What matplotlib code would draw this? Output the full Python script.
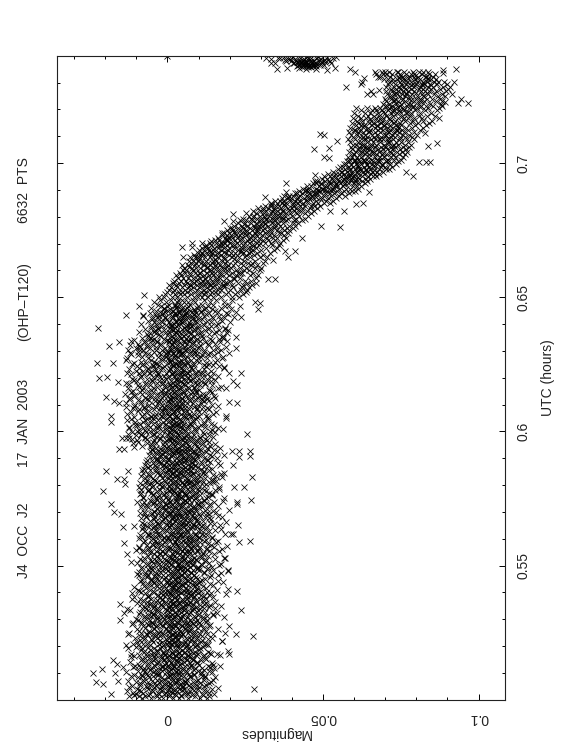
import matplotlib
matplotlib.use('Agg')
import matplotlib.pyplot as plt
import numpy as np

# all magnitudes in millimag
utc_rows = [
0.5012,0.5021,0.5033,0.5039,0.5052,0.5061,0.5068,0.5083,0.5091,0.5102,
0.5111,0.5123,0.5129,0.5142,0.5151,0.5163,0.5172,0.5178,0.5192,0.5203,
0.5209,0.5222,0.5231,0.5243,0.5249,0.5262,0.5273,0.5281,0.5288,0.5302,
0.5312,0.5319,0.5333,0.5341,0.5352,0.5359,0.5372,0.5383,0.5391,0.5402,
0.5409,0.5423,0.5431,0.5442,0.5448,0.5463,0.5471,0.5482,0.5489,0.5503,
0.5511,0.5522,0.5528,0.5542,0.5553,0.5561,0.5569,0.5582,0.5592,0.5601,
0.5612,0.5619,0.5632,0.5643,0.5651,0.5658,0.5673,0.5681,0.5692,0.5699,
0.5712,0.5723,0.5729,0.5741,0.5752,0.5763,0.5769,0.5782,0.5791,0.5802,
0.5811,0.5818,0.5833,0.5841,0.5852,0.5859,0.5872,0.5881,0.5893,0.5899,
0.5912,0.5923,0.5931,0.5938,0.5952,0.5961,0.5972,0.5979,0.5992,0.6003,
0.6011,0.6022,0.6029,0.6041,0.6052,0.6059,0.6073,0.6082,0.6091,0.6098,
0.6113,0.6121,0.6132,0.6139,0.6151,0.6162,0.6173,0.6179,0.6192,0.6201,
0.6212,0.6219,0.6232,0.6243,0.6251,0.6258,0.6272,0.6283,0.6291,0.6302,
0.6309,0.6322,0.6333,0.6341,0.6349,0.6362,0.6371,0.6382,0.6391,0.6399,
0.6412,0.6423,0.6431,0.6442,0.6449,0.6461,0.6472,0.6482,0.6489,
]

mag_rows = [
[-12.4,-7.1,-3.2,0.6,4.3,8.9,13.5,-9.3],[-10.2,-5.5,-1.1,2.4,6.7,11.2,-2.7,15.1],
[-13.1,-8.4,-4.6,-0.3,3.1,7.4,12.6,1.2],[-6.2,-2.4,1.8,5.2,9.7,-9.9,14.3,3.6],
[-11.5,-6.9,-3.8,0.2,4.9,8.1,11.9,-1.6],[-8.7,-4.1,-0.9,2.9,6.1,10.4,13.2,0.8],
[-12.8,-7.6,-2.2,1.5,5.6,9.1,-5.1,3.3],[-9.4,-5.8,-1.7,3.7,7.2,12.1,15.4,0.1],
[-10.9,-6.4,-3.1,0.9,4.5,8.6,-8.2,2.1],[-13.4,-4.7,-0.4,2.6,6.4,10.8,14.2,-2.9],
[-7.8,-3.6,1.1,5.1,8.4,11.6,-5.7,3.4],[-11.2,-6.1,-1.9,2.2,6.8,13.7,-8.9,0.5],
[-9.1,-4.4,-0.7,3.9,7.7,10.1,14.8,1.7],[-12.1,-7.3,-2.6,1.3,5.4,9.4,-5.2,3.1],
[-8.3,-3.9,0.3,4.2,8.2,12.4,-1.2,6.3],[-10.6,-6.6,-2.1,2.7,6.6,11.3,-4.3,0.4],
[-11.7,-5.3,-0.8,3.5,7.1,9.9,14.1,1.9],[-7.4,-3.3,1.4,5.7,8.8,12.9,-1.4,3.8],
[-12.6,-8.1,-4.2,0.7,4.1,10.6,-2.3,6.9],[-9.6,-5.6,-1.3,2.8,6.2,9.2,13.1,0.2],
[-11.1,-6.7,-2.8,1.6,5.3,8.3,12.2,3.2],[-8.8,-4.9,-0.2,3.4,7.6,11.1,-2.5,1.1],
[-10.3,-7.2,-3.4,2.3,5.9,9.6,14.4,0.6],[-6.8,-1.8,1.9,4.6,8.7,12.8,-4.5,3.9],
[-12.2,-5.9,-2.7,0.4,6.5,10.2,-8.6,2.5],[-9.8,-4.3,-0.5,3.6,7.3,11.7,1.3,5.5],
[-7.9,-3.7,1.2,4.8,8.9,13.4,-1.5,2.8],[-11.4,-6.3,-2.3,2.1,6.3,10.7,-4.8,0.9],
[-8.5,-5.1,-0.6,3.2,7.5,9.3,12.3,1.6],[-10.1,-6.8,-3.2,1.8,5.8,11.4,-1.1,4.4],
[-7.2,-3.5,0.8,4.7,8.5,12.7,-5.4,2.4],[-9.2,-4.6,-1.4,2.9,6.9,10.3,14.6,0.3],
[-11.9,-6.2,-2.9,3.3,7.8,9.8,-0.1,5.2],[-8.1,-4.8,0.5,4.4,8.3,11.8,15.2,1.4],
[-6.5,-2.1,2.6,5.5,10.5,13.6,-3.9,0.7],[-9.7,-5.2,-0.9,3.8,7.4,12.5,1.7,6.1],
[-7.7,-3.4,1.3,4.9,9.2,11.5,-1.7,3.1],[-10.8,-6.1,-2.4,2.4,6.7,14.7,0.6,8.4],
[-5.9,-1.5,3.5,7.1,10.9,13.3,-3.1,1.2],[-8.6,-4.2,0.1,4.3,8.1,12.6,-0.8,5.9],
[-9.5,-5.7,-2.2,2.7,6.4,9.5,15.9,1.5],[-7.5,-3.2,1.9,5.1,8.8,11.3,-1.2,3.7],
[-6.3,-2.8,0.4,4.6,7.9,13.8,2.2,9.1],[-8.9,-4.7,-0.3,3.1,6.6,10.6,16.2,1.8],
[-5.4,-1.1,2.5,5.8,9.4,12.1,-3.3,7.2],[-9.3,-6.4,-2.6,1.6,4.2,8.6,13.9,3.3],
[-7.1,-3.8,0.9,5.3,7.7,11.6,17.1,2.1],[-4.9,-1.6,3.2,6.3,10.1,14.5,0.2,8.3],
[-8.4,-5.3,-0.7,2.8,5.7,9.7,12.9,4.1],[-6.7,-2.9,1.1,4.5,8.2,11.2,16.6,3.4],
[-9.9,-4.5,-1.3,3.6,7.3,13.4,0.5,6.2],[-5.6,-2.3,2.1,5.4,9.1,12.4,-0.6,7.5],
[-7.6,-3.1,0.7,4.8,8.4,10.8,18.1,2.7],[-4.4,-0.9,3.9,6.8,11.4,15.1,1.9,-2.4],
[-8.2,-5.5,-1.8,2.2,6.1,9.8,13.5,4.7],[-6.1,-2.5,1.4,4.1,7.6,12.3,17.4,0.3],
[-9.1,-3.6,0.2,3.4,8.7,10.4,14.9,5.6],[-5.1,-1.7,2.9,6.5,9.3,13.1,-3.2,7.1],
[-7.3,-4.1,0.8,4.9,8.1,11.7,16.3,2.3],[-4.7,-1.2,3.1,5.9,10.2,14.2,0.1,6.9],
[-8.8,-5.8,-2.1,2.6,7.4,9.6,12.7,4.3],[-6.4,-3.3,1.6,4.4,8.9,11.1,18.4,0.9],
[-3.9,-0.4,3.7,6.2,10.7,15.4,2.4,-1.9],[-7.9,-4.3,0.6,5.2,7.8,12.8,3.5,9.4],
[-5.7,-2.7,1.2,4.6,8.3,11.4,16.8,-0.2],[-8.3,-3.5,0.4,3.3,6.7,9.9,13.7,5.1],
[-4.2,-1.4,2.8,5.6,9.5,14.1,1.5,7.3],[-6.9,-3.9,1.7,4.2,8.6,12.2,17.6,-0.7],
[-5.2,-2.2,2.3,6.4,10.3,13.2,3.6,0.6],[-7.4,-4.4,0.3,3.8,7.2,11.5,15.7,5.3],
[-3.4,-0.8,3.3,5.7,9.2,12.6,1.8,7.7],[-6.6,-2.6,1.3,4.7,8.5,10.9,16.1,-1.3],
[-8.1,-4.6,-0.5,3.9,6.9,13.6,2.6,9.8],[-5.3,-1.9,2.7,5.5,9.7,11.9,17.8,0.7],
[-7.7,-3.7,0.5,4.3,8.8,12.5,2.9,6.6],[-4.6,-1.3,3.4,6.1,10.6,14.4,-2.6,7.9],
[-8.6,-5.4,-0.6,2.4,5.8,9.3,13.3,3.7],[-6.2,-2.4,1.9,4.5,8.2,11.6,15.3,0.4],
[-9.2,-4.9,-1.7,3.1,7.1,10.1,16.7,4.8],[-5.8,-2.8,0.9,5.4,8.6,12.3,2.2,-0.3],
[-7.2,-3.2,2.1,4.7,7.5,11.3,14.8,6.4],[-4.3,-1.1,3.6,6.7,9.6,13.9,0.8,8.8],
[-8.4,-5.6,-0.8,2.5,5.2,10.5,15.6,3.1],[-6.3,-2.3,1.5,4.2,8.1,12.1,17.2,6.8],
[-3.7,-0.6,2.9,5.9,9.4,11.8,1.1,7.4],[-7.5,-3.8,0.7,3.5,6.3,10.8,14.3,4.9],
[-5.5,-1.8,2.4,5.1,8.9,13.1,-0.4,7.6],[-4.8,-2.1,1.6,4.4,7.9,11.2,16.4,3.2],
[-6.7,-3.1,0.2,3.7,6.5,9.1,12.9,5.7],[-3.2,0.3,2.8,5.3,8.3,11.7,15.8,7.1],
[-5.9,-2.5,1.4,4.1,6.9,10.3,13.6,18.2],[-4.1,-0.7,3.3,5.6,8.7,12.4,1.9,7.8],
[-5.1,-1.9,2.3,4.6,7.2,10.9,14.9,0.6],[-3.6,-0.2,3.8,6.2,9.8,12.8,1.7,16.9],
[-5.3,-1.4,1.8,4.8,8.4,11.1,15.2,6.6],[-9.4,-4.6,-0.9,2.7,5.5,9.9,13.4,3.4],
[-11.3,-6.5,-2.4,1.6,4.3,8.1,12.2,0.5],[-7.1,-3.6,0.8,5.2,7.7,10.4,14.6,2.8],
[-12.7,-8.5,-4.2,-0.3,3.1,6.4,11.6,1.3],[-9.8,-5.7,-1.6,2.2,5.9,9.2,13.8,3.9],
[-12.3,-7.8,-3.4,1.1,4.7,8.8,16.4,-0.6],[-10.4,-6.1,-2.7,2.9,6.6,10.7,1.4,5.1],
[-8.9,-4.8,-0.5,3.6,7.3,11.9,14.1,2.1],[-12.9,-7.2,-3.1,0.9,4.2,8.3,-5.3,1.7],
[-10.7,-5.2,-1.3,2.4,6.1,9.6,13.1,3.3],[-8.2,-3.9,0.6,4.9,7.9,12.4,-1.8,2.6],
[-11.6,-6.8,-2.2,1.7,5.3,10.2,15.7,0.3],[-9.1,-4.3,-0.8,3.2,6.8,9.4,13.3,4.4],
[-13.2,-7.5,-3.7,0.4,4.1,8.6,11.4,-1.1],[-10.3,-5.9,-1.9,2.6,5.7,9.8,14.4,1.9],
[-8.6,-4.1,0.2,3.8,7.4,11.8,-2.8,5.6],[-12.4,-6.6,-2.5,1.2,4.8,8.9,12.7,0.7],
[-10.8,-5.4,-1.2,3.1,6.3,10.1,15.1,2.3],[-13.6,-8.1,-3.3,0.5,4.4,7.6,11.3,-0.9],
[-11.1,-6.3,-2.1,2.8,5.1,9.3,13.6,1.5],[-12.8,-7.9,-4.4,1.3,6.9,8.4,16.1,3.7],
[-9.6,-5.6,-0.7,2.5,5.8,10.6,14.2,0.8],[-13.3,-6.9,-3.5,1.9,4.6,8.7,12.1,-1.4],
[-10.6,-5.1,-1.5,3.4,7.2,9.5,15.4,2.7],[-8.8,-4.5,0.1,4.3,6.7,11.2,13.9,-2.3],
[-11.8,-7.4,-2.9,1.4,5.4,9.1,12.6,3.1],[-9.3,-5.8,-0.4,2.1,6.2,10.9,14.7,4.8],
[-12.2,-6.2,-2.3,0.9,4.9,8.2,11.7,-4.1],[-9.9,-4.7,-1.1,3.7,7.1,12.3,16.6,1.8],
[-11.4,-7.7,-3.2,1.6,5.2,8.5,13.2,2.9],[-8.4,-4.2,0.7,4.1,6.4,10.3,15.3,3.3],
[-13.1,-6.4,-1.7,2.3,5.6,9.7,12.8,0.2],[-9.5,-5.3,-0.3,3.9,7.7,11.1,14.9,2.4],
[-11.9,-7.1,-2.6,1.8,4.5,8.8,13.7,-0.6],[-8.7,-3.8,1.1,5.5,8.1,11.6,17.3,3.6],
[-10.2,-5.5,-0.9,2.7,6.6,9.9,15.8,1.2],[-12.1,-6.7,-2.4,1.5,4.7,10.4,13.4,3.2],
[-7.6,-3.4,1.7,5.3,8.3,12.2,16.9,0.4],[-10.9,-4.9,-0.2,3.3,6.5,9.2,14.3,2.6],
[-8.3,-5.2,0.9,4.2,7.5,11.5,17.7,1.9],[-6.6,-2.7,2.2,5.7,9.4,13.5,0.3,7.3],
[-9.2,-4.4,0.4,3.6,6.8,10.7,15.6,2.8],[-7.3,-3.1,1.3,4.8,8.6,12.9,18.6,5.9],
[-5.4,-1.6,2.9,6.1,9.7,14.1,1.1,7.6],[-8.5,-3.7,0.8,4.4,7.3,11.3,16.2,2.2],
[-6.2,-2.1,2.6,5.1,8.9,12.6,17.5,3.9],[-4.6,-0.7,3.4,6.7,10.2,14.6,1.4,8.3],
[-7.7,-2.8,1.6,4.6,7.8,11.7,16.7,5.4],[-5.6,-1.4,2.3,5.9,9.1,13.3,18.9,3.7],
[-3.8,0.2,3.9,7.1,10.8,15.2,1.7,8.7],[-5.2,-1.1,2.7,6.3,9.6,12.4,17.1,4.6],
[-3.1,0.6,4.2,7.4,11.2,14.8,19.7,2.4],[-4.4,-0.4,3.1,6.6,8.9,13.7,18.2,5.3],
[-2.3,1.3,4.7,8.1,11.6,15.6,20.8,3.4],[-3.7,0.8,3.8,7.2,10.3,14.3,19.1,5.7],
[-1.4,2.1,5.3,8.8,12.4,16.4,21.9,3.9],[-3.2,0.5,4.5,7.7,11.1,15.1,20.4,6.2],
[-0.9,2.8,6.1,9.3,13.2,17.3,22.7,4.6],
]

# second pass through the low part of the band, values not in order
utc_low = [
0.5007,0.5017,0.5026,0.5036,0.5047,0.5056,0.5066,0.5074,0.5087,0.5096,
0.5106,0.5117,0.5126,0.5135,0.5147,0.5157,0.5166,0.5175,0.5186,0.5197,
0.5206,0.5216,0.5227,0.5237,0.5246,0.5255,0.5267,0.5277,0.5285,0.5296,
0.5307,0.5316,0.5326,0.5337,0.5346,0.5356,0.5365,0.5377,0.5386,0.5397,
0.5405,0.5417,0.5427,0.5436,0.5445,0.5457,0.5466,0.5476,0.5486,0.5495,
0.5507,0.5516,0.5525,0.5537,0.5547,0.5556,0.5566,0.5575,0.5587,0.5596,
0.5607,0.5615,0.5627,0.5636,0.5646,0.5656,0.5665,0.5677,0.5686,0.5696,
0.5705,0.5717,0.5726,0.5736,0.5745,0.5757,0.5766,0.5776,0.5785,0.5797,
0.5806,0.5815,0.5826,0.5837,0.5846,0.5855,0.5867,0.5876,0.5886,0.5895,
0.5907,0.5916,0.5926,0.5935,0.5947,0.5956,0.5966,0.5975,0.5987,0.5996,
0.6006,0.6017,0.6025,0.6036,0.6047,0.6056,0.6066,0.6075,0.6087,0.6096,
0.6105,0.6117,0.6126,0.6136,0.6146,0.6155,0.6167,0.6176,0.6186,0.6195,
0.6207,0.6216,0.6226,0.6237,0.6246,0.6255,0.6266,0.6276,0.6287,0.6296,
0.6305,0.6316,0.6327,0.6336,0.6345,0.6357,0.6366,0.6376,0.6386,0.6395,
0.6406,0.6417,0.6426,0.6436,0.6445,0.6456,0.6467,0.6476,0.6486,0.6495,
]
mag_low = [
[3.7,-8.2,10.4,-1.3,6.6,-5.4,1.9,12.8,-2.6],[7.9,-3.8,-10.7,4.2,0.9,11.3,-6.1,2.7],
[-0.5,9.3,-7.7,5.6,-3.1,13.2,1.4,-11.2,6.3],[2.2,-4.9,8.6,-9.1,0.3,4.8,11.7,-1.9],
[10.1,-6.6,3.3,-2.2,7.4,-12.3,0.7,5.1,-4.2],[-8.8,1.2,6.9,-0.8,12.4,3.9,-5.7,9.2],
[4.6,-2.7,-10.1,8.3,0.2,14.1,-6.4,2.9,5.7],[-3.4,11.6,-7.9,1.7,6.2,-1.1,9.8,3.2],
[0.8,-11.8,5.3,-4.6,12.2,-0.2,7.1,-8.1,2.4],[6.8,-2.9,3.6,10.7,-6.9,1.1,-3.7,8.4],
[-7.2,4.1,0.4,13.4,-1.6,6.1,-9.6,2.6,9.7],[1.6,-5.2,8.8,-2.4,4.9,11.1,-0.7,-7.4],
[-4.1,7.6,2.1,-10.4,5.8,0.1,12.9,-1.8,3.4],[9.4,-6.2,-0.4,4.4,-3.3,7.2,1.3,14.3],
[-8.6,2.8,6.4,-1.2,10.9,-4.8,3.1,0.6,8.1],[5.2,-2.1,-7.1,12.1,1.8,-5.9,7.8,3.7],
[-0.9,9.1,-9.3,4.3,-3.6,6.7,11.9,2.3,0.5],[-6.7,3.8,8.2,-1.4,13.8,5.4,-4.4,1.5],
[2.9,-8.4,6.3,-0.1,10.3,-3.2,4.7,7.3,-5.6],[11.4,-1.7,3.2,-6.3,0.7,8.7,-10.2,5.9],
[-2.8,6.5,1.2,-7.8,9.6,3.6,12.6,-0.3,4.5],[-4.7,8.9,0.2,-9.7,5.5,2.1,-1.6,10.8],
[3.3,-5.3,7.7,-0.6,13.1,1.9,-7.5,6.2,9.2],[-2.3,4.2,11.2,-4.1,0.4,7.5,-8.9,2.7],
[8.3,-6.5,1.4,-1.1,5.1,10.5,3.1,-3.9,14.8],[-9.2,6.8,0.3,3.9,-2.5,12.3,-5.8,8.6],
[1.7,-4.3,9.9,5.6,-0.4,-7.2,3.2,11.5,6.9],[-1.9,7.2,-6.2,2.5,13.6,-3.5,4.8,0.6],
[10.2,-8.3,5.2,-0.8,1.3,8.1,-4.9,3.5,6.4],[-2.7,12.7,0.9,-5.7,7.4,3.7,-9.5,9.5],
[4.1,-1.3,6.7,-7.6,2.2,11.3,-3.1,8.8,0.1],[-6.1,9.7,1.6,-0.2,5.3,14.6,-4.5,3.4],
[7.1,-2.9,-8.7,4.4,12.1,0.8,6.1,-5.1,2.3],[-3.3,8.5,1.1,-6.9,10.6,5.7,-0.7,3.9],
[0.5,-4.2,7.9,13.3,2.6,-7.3,5.2,9.1,-1.5],[-5.5,3.6,11.8,-2.1,6.6,1.8,-8.4,8.2],
[9.3,-0.6,4.9,-6.6,2.4,15.2,-3.7,7.3,0.9],[-1.8,6.3,-5.2,10.4,3.1,-8.9,12.4,4.6],
[5.9,-3.4,1.5,8.4,-0.9,-6.4,11.6,2.8,7.6],[-7.1,4.3,9.8,0.7,-2.2,6.8,13.9,1.2],
[2.5,-4.8,7.2,-0.3,10.7,-9.2,5.4,3.3,8.9],[-2.6,12.5,1.9,-6.8,6.1,3.8,-0.5,9.4],
[4.7,-1.4,8.1,-5.3,14.7,2.3,-3.6,6.5,0.4],[-7.7,10.3,3.4,-0.2,5.7,1.1,8.7,-4.4],
[6.2,-2.8,11.2,0.6,-8.1,4.1,7.9,2.7,-5.2],[-0.7,9.2,3.5,-3.9,13.7,5.6,-6.7,1.4],
[8.6,-4.1,2.1,6.9,-1.5,16.1,-7.3,4.8,0.3],[-2.3,5.3,11.9,1.7,-9.1,7.7,3.2,-5.7],
[3.9,-6.2,9.6,-0.4,6.4,12.7,0.8,-3.1,5.1],[-8.2,2.4,7.1,-1.9,14.2,4.5,-4.7,9.9],
[1.3,-2.7,10.8,5.9,-6.3,3.4,8.3,-0.6,17.3],[-5.1,6.7,0.2,12.2,-3.2,4.2,2.9,-7.8],
[9.1,-1.2,5.4,-8.7,7.8,1.6,15.3,-4.3,3.7],[-3.5,10.9,0.7,6.2,-6.1,2.1,13.1,4.9],
[7.4,-0.9,-5.6,3.2,11.4,8.5,-2.4,1.5,5.8],[-7.4,4.6,9.4,-1.7,16.6,2.7,6.9,-3.8],
[0.9,-5.9,12.6,3.6,7.5,-0.1,-9.3,5.2,10.1],[-2.1,8.2,1.8,-4.6,13.9,6.3,3.3,-6.5],
[4.4,-7.9,10.6,-0.8,2.5,7.1,15.6,-3.3,5.5],[-1.6,6.9,0.5,-5.4,9.3,3.1,12.3,8.4],
[2.2,-3.7,14.4,7.2,-8.3,4.7,0.1,10.2,-1.1],[-6.4,5.6,1.9,11.7,-2.6,8.9,3.8,-4.9],
[9.7,-0.3,6.4,-7.2,3.4,13.2,1.1,-3.4,5.3],[-5.3,12.1,2.6,7.7,-1.4,4.1,17.2,-8.1],
[3.1,-2.5,9.1,0.4,-6.6,6.7,10.8,5.1,-4.1],[-0.5,14.9,4.2,-7.6,8.1,1.7,-2.9,6.1],
[7.3,-5.7,2.3,11.3,-1.8,3.9,9.6,0.6,-3.6],[-8.5,6.4,13.5,1.4,-0.7,5.2,-4.7,8.8],
[4.8,-2.2,10.4,-6.9,7.9,2.9,16.2,-0.1,3.6],[-3.1,8.6,0.9,-5.1,12.8,5.7,1.2,-7.3],
[6.6,-0.9,3.3,-4.4,9.2,14.7,-2.3,7.5,1.8],[-6.2,11.1,4.5,0.3,-1.7,8.3,2.4,-8.6],
[5.1,-3.8,13.2,7.1,-0.4,-6.8,3.7,9.9,1.6],[-2.6,4.9,10.7,0.8,-7.4,6.3,15.1,-4.2],
[8.4,-1.3,2.7,-5.5,5.8,11.6,0.2,-3.5,6.9],[-7.8,3.5,9.3,-0.6,12.9,4.3,-2.9,7.7],
[1.5,-4.6,6.1,14.3,-8.8,3.2,8.7,-1.1,5.4],[-3.2,10.1,2.2,-6.3,7.3,0.7,12.4,4.7],
[6.3,-0.2,-5.8,3.9,9.7,16.7,-2.7,1.3,7.8],[-4.5,8.2,0.6,-7.5,5.6,11.9,2.8,-1.6],
[3.4,-8.9,13.6,6.8,-2.1,1.9,9.5,-5.2,4.6],[-0.8,7.4,-3.9,10.5,2.4,-6.7,5.9,15.7],
[8.9,-4.8,1.6,-1.9,6.2,12.2,3.6,-7.1,0.5],[-2.4,5.1,9.9,-5.9,3.1,14.6,0.9,7.2],
[4.2,-7.7,11.3,-0.5,8.1,1.4,-3.3,6.6,18.3],[-5.6,2.9,7.6,0.2,13.4,-1.8,4.4,-8.3],
[9.8,-3.7,5.7,-0.9,2.1,-6.1,11.7,7.5,1.1],[-4.1,6.5,16.9,3.3,-1.2,8.8,-7.2,0.4],
[2.6,-6.8,10.9,5.2,-2.8,13.7,1.7,7.9,-0.3],[-5.1,4.3,-1.4,8.4,12.6,0.3,6.1,-3.6],
[3.7,-2.2,9.4,-4.8,1.2,14.4,6.7,-0.7,5.3],[-3.4,7.1,0.6,11.2,-1.9,4.5,9.2,2.1],
[6.4,-5.7,2.8,15.8,-0.5,8.5,-3.1,4.1,1.4],[-4.9,10.6,3.1,-2.3,7.7,12.9,0.8,5.6],
[-8.2,4.7,-1.1,9.6,2.3,-5.3,13.8,6.8,0.2],[-11.2,5.9,-3.8,8.7,1.6,-6.6,11.3,3.2],
[7.2,-9.7,2.1,-0.4,12.7,4.9,-4.4,9.3,0.7],[-12.2,6.6,-2.5,3.5,-7.3,10.4,1.1,5.3],
[-5.1,8.4,-10.1,0.3,13.3,3.8,-1.7,6.1,-8.6],[2.7,-6.9,11.5,-3.2,7.6,-11.4,4.4,0.9],
[-9.2,5.5,-0.6,14.2,2.3,-4.7,8.9,1.3,-7.1],[9.8,-2.8,-12.5,4.1,6.7,-5.5,0.5,12.1],
[-6.4,3.2,-9.9,7.8,-0.9,15.1,1.7,-3.4,5.1],[-10.5,8.2,2.6,-1.4,11.8,-7.8,4.6,0.1],
[3.9,-4.3,13.1,-11.7,6.2,-0.2,9.1,-6.5,1.9],[-8.1,5.7,-2.1,10.2,0.6,-5.2,7.3,2.8],
[6.9,-12.9,1.4,-3.7,14.7,4.2,-7.4,8.6,0.3],[-1.6,11.6,-9.4,3.1,-5.9,6.4,2.2,-0.8],
[4.8,-7.6,9.4,-2.4,0.7,-11.1,12.8,5.8,1.5],[-4.1,7.2,-10.7,2.9,16.3,-0.5,3.6,-6.2],
[10.8,-8.5,1.2,5.1,-3.1,8.3,-13.3,0.4,4.3],[-5.8,2.4,11.1,-1.2,6.9,-9.6,13.5,3.3],
[-7.3,9.7,0.9,-3.9,4.7,15.4,-12.1,7.5,1.8],[1.1,-6.1,5.6,-10.3,8.8,-2.3,3.4,12.4],
[-0.7,7.9,-8.9,14.3,2.1,-4.6,5.3,-11.6,9.2],[3.7,-5.3,10.3,-1.5,6.3,0.2,-8.2,13.2],
[-9.3,1.6,8.4,-3.5,17.1,4.5,-0.9,6.6,2.7],[-7.1,12.2,3.2,-12.4,5.2,-1.8,9.6,0.8],
[4.3,-4.9,14.1,7.3,-9.8,1.3,-2.6,6.1,10.7],[-11.3,2.9,8.1,-0.4,-6.7,5.4,12.6,3.8],
[9.2,-3.3,0.5,-8.4,16.4,4.8,-1.1,7.4,2.2],[-5.7,6.5,-13.1,11.4,1.5,-2.9,3.9,8.7],
[0.4,-7.9,13.9,5.1,-4.1,9.9,-10.2,2.6,6.8],[-1.3,7.7,3.1,-6.4,18.1,0.7,-9.1,4.2],
[11.7,-2.7,5.7,-8.1,1.8,14.8,-4.8,8.2,3.4],[-10.6,4.9,0.1,6.7,-3.6,12.3,2.5,-6.9],
[7.5,-13.4,1.2,9.3,-1.7,4.4,-5.4,15.9,0.6],[-3.1,10.9,-8.3,3.3,6.4,-0.6,17.8,2.1],
[-6.1,5.2,13.1,-11.8,1.9,8.6,-2.2,4.6,9.5],[0.3,-4.4,7.3,-9.5,11.9,3.7,-0.2,16.1],
[-7.8,2.8,6.1,-1.9,14.6,9.1,-12.6,4.1,1.1],[5.5,-3.6,10.2,-6.6,0.9,18.7,-8.9,7.8],
[-2.1,3.4,12.9,-5.1,8.3,1.6,-9.4,6.3,15.2],[4.9,-7.2,0.6,10.6,-3.2,6.8,-0.4,19.1],
[-5.9,9.4,2.3,-1.1,13.7,5.9,-4.2,7.1,16.7],[1.4,-6.3,11.2,3.9,-2.4,8.4,17.9,5.2],
[-0.8,7.6,-3.7,14.9,2.7,10.4,-5.6,4.3,19.3],[6.2,-4.1,1.8,12.1,-1.2,8.9,3.1,16.5],
[-2.9,9.8,0.7,5.3,-5.2,18.6,7.2,13.3,2.4],[3.5,-0.6,11.6,6.6,-3.4,15.7,1.3,8.1],
[-4.3,4.7,20.1,0.4,9.6,-1.7,13.9,6.9,2.9],[7.8,-2.6,3.6,16.9,-0.3,11.1,5.1,-5.1],
[1.7,-3.3,9.2,21.4,4.9,-0.9,14.4,6.4,18.2],[-1.6,5.8,12.3,2.4,8.6,19.6,-3.9,3.2],
[3.8,16.3,-0.7,10.8,6.1,-2.4,22.1,7.9,1.2],[-1.1,8.4,4.4,14.2,0.8,20.4,11.7,5.7],
[2.3,18.4,-0.2,9.7,6.7,23.2,3.1,13.1,-2.2],
]

# top part of the fall, several scans per row
utc_high = [
0.6502,0.6511,0.6519,0.6526,0.6538,0.6546,0.6553,0.6562,0.6572,0.6581,
0.6589,0.6601,0.6608,0.6619,0.6628,0.6636,0.6648,0.6657,0.6664,0.6676,
0.6683,0.6694,0.6703,0.6712,0.6719,0.6731,0.6738,0.6749,0.6757,0.6766,
0.6778,0.6786,0.6793,0.6804,0.6813,0.6821,0.6832,0.6839,0.6851,0.6858,
0.6869,0.6877,0.6888,0.6896,0.6903,0.6916,0.6924,0.6933,0.6941,0.6952,
0.6959,0.6968,0.6977,0.6986,0.6998,0.7006,0.7013,0.7024,0.7032,0.7041,
0.7052,0.7059,0.7068,0.7079,0.7088,0.7096,0.7103,0.7114,0.7123,0.7131,
0.7142,0.7149,0.7158,0.7169,0.7176,0.7187,0.7196,0.7204,0.7213,0.7221,
0.7232,0.7239,0.7248,0.7259,0.7268,0.7276,0.7284,0.7296,0.7303,0.7314,
0.7321,0.7332,0.7341,0.7349,0.7355,
]
mag_high = [
[8.4,-1.2,14.7,3.1,20.9,11.2,-2.6,17.3,6.2,23.1,1.4,9.8,12.9],[5.3,16.2,-0.7,10.1,21.7,2.4,13.6,7.7,24.2,18.8,4.1,11.6],
[12.1,3.6,19.4,-0.2,8.9,15.3,25.1,6.4,10.7,1.7,22.3,14.2,4.8],[17.1,2.2,9.4,23.6,13.3,5.7,0.6,20.2,11.8,7.3,16.4,25.6],
[4.6,14.8,21.1,8.2,1.1,18.3,12.6,26.2,6.8,10.3,23.9,16.7,3.2],[11.4,24.4,2.9,17.7,7.1,13.9,20.6,5.2,9.6,15.1,27.1,0.4],
[19.2,6.3,13.1,3.7,22.8,10.9,16.1,8.6,25.7,1.9,12.4,18.4,28.4],[7.9,15.6,2.1,20.1,11.1,24.9,5.9,14.3,9.2,17.9,4.3,26.7],
[13.7,23.2,6.7,10.4,18.7,3.3,16.9,8.1,28.6,12.2,21.4,5.1,15.8],[9.9,4.4,19.9,14.6,26.4,7.4,22.1,11.7,2.7,17.2,13.4,29.2],
[16.6,8.7,24.1,5.6,12.8,20.7,10.2,27.6,15.4,3.9,18.9,7.2,22.6],[6.1,14.1,29.7,11.3,19.1,8.3,24.7,16.3,4.9,21.9,13.2,26.1],
[18.1,10.6,5.4,23.4,14.9,28.2,7.8,20.4,12.7,17.4,30.2,9.1,25.3],[8.8,21.2,13.8,6.6,26.9,16.8,11.9,19.6,24.3,4.7,15.2,28.9],
[23.8,11.6,18.6,7.6,14.4,30.8,10.8,21.6,16.1,27.3,9.3,25.9,13.1],[6.9,19.3,12.3,24.6,17.6,9.7,28.1,15.7,22.4,8.2,31.2,14.6],
[20.8,10.1,26.6,16.4,13.6,7.1,23.1,18.2,29.6,12.1,24.8,9.4,32.1],[15.3,22.2,8.6,27.9,19.7,11.4,17.1,25.2,13.9,30.6,21.1,10.7],
[12.6,28.8,18.8,9.8,24.2,15.9,33.1,21.8,11.2,26.3,16.6,20.3,14.3],[19.4,11.8,30.1,23.6,14.7,27.2,17.3,10.3,34.2,22.7,13.4,25.1],
[25.8,16.2,12.9,21.3,31.8,18.1,28.4,15.1,35.1,11.1,23.9,19.8,26.7],[14.1,29.3,20.6,24.4,12.3,17.8,33.6,22.9,16.9,27.8,19.2,35.8],
[18.3,26.1,13.7,31.2,22.3,15.6,28.7,36.2,20.1,24.9,17.2,33.2,29.9],[23.4,15.2,34.6,19.6,27.4,16.6,30.7,21.6,37.1,25.6,18.7,32.2],
[28.2,20.9,16.3,35.3,24.1,31.9,18.4,26.9,38.2,22.4,29.4,33.9,19.9],[17.4,30.3,23.2,27.1,37.6,20.4,34.1,25.3,19.1,32.7,28.6,22.1],
[26.2,35.7,19.7,31.4,23.7,38.6,28.3,21.7,33.4,18.2,29.8,36.6,24.8],[33.1,21.2,28.9,39.1,25.4,19.3,35.1,30.8,23.3,37.4,27.2],
[20.7,31.1,26.4,36.9,22.8,40.2,29.1,34.4,24.2,38.3,28.1,32.9],[36.2,23.9,30.4,21.4,34.7,27.7,41.1,25.7,32.3,39.2,29.3],
[24.9,33.6,28.4,40.6,22.6,37.2,31.3,26.8,35.6,42.1,30.1],[31.7,23.4,38.1,27.3,34.2,43.2,29.7,25.3,36.8,40.8,33.1],
[28.8,41.4,35.1,24.3,31.6,38.9,26.7,44.1,33.9,30.2,37.3],[26.1,34.8,42.3,29.6,37.9,31.1,45.2,27.9,35.9,40.1,32.7],
[39.4,30.9,25.2,36.1,44.3,33.3,28.6,41.7,34.6,38.2,46.1],[31.8,42.9,37.1,27.6,35.3,47.1,33.7,29.9,40.7,44.8,36.7],
[38.6,29.1,45.7,34.1,41.2,32.4,48.2,36.4,43.4,30.6,39.9],[33.2,47.2,40.3,35.7,44.2,31.2,37.7,49.1,42.6,34.9,46.3],
[41.9,35.2,50.2,38.1,46.9,33.4,43.6,36.9,48.4,40.6,52.1],[37.2,45.1,34.7,42.2,53.1,39.3,47.8,36.1,50.9,44.4,41.1],
[48.9,38.9,43.9,36.7,54.2,46.1,41.6,51.6,39.7,45.4,49.6],[42.7,55.1,37.6,47.3,40.4,52.7,44.9,50.3,39.1,46.6,57.2],
[45.6,40.9,53.4,48.2,58.3,43.3,50.7,41.8,55.9,47.1,52.2],[51.3,44.1,59.2,46.7,42.3,54.6,49.1,56.8,45.3,60.4,48.4],
[43.6,57.3,50.1,47.6,61.2,53.2,45.1,55.3,49.8,58.7,52.8],[54.4,46.3,62.1,51.4,56.3,48.8,59.6,44.8,53.9,60.9,50.6],
[47.8,58.1,52.3,63.4,55.6,49.2,61.3,54.1,46.9,57.1,59.9],[60.3,50.8,56.4,48.1,64.2,53.6,58.9,51.9,62.6,55.2,47.3],
[52.9,65.1,57.7,49.7,61.7,54.8,59.1,63.7,51.2,56.6,60.7],[58.3,53.3,66.2,55.7,62.4,50.4,60.1,64.6,57.4,52.1,67.1],
[61.1,68.1,54.3,59.4,65.4,56.9,63.2,51.7,58.7,66.8,55.1],[57.6,64.3,53.1,69.2,60.8,62.8,55.8,67.4,59.2,65.9,56.2],
[70.1,58.8,63.9,54.7,61.6,67.9,57.1,65.2,60.2,71.2,62.3],[56.4,66.4,59.7,72.1,64.8,58.2,68.7,61.3,55.6,63.3,69.9],
[60.6,71.6,57.3,65.7,62.1,73.4,59.1,67.2,64.1,56.8,69.1],[67.7,58.4,74.2,61.9,66.1,63.6,71.1,59.9,70.3,64.4,57.8],
[62.7,72.7,60.3,68.4,75.1,58.6,65.3,70.8,63.1,67.3,61.4],[59.4,69.6,64.7,75.8,62.2,73.1,66.6,60.9,71.9,57.9,68.2],
[74.4,63.4,70.2,59.6,66.9,76.4,61.8,68.9,64.9,72.4,60.1],[65.8,58.3,71.4,62.6,75.3,68.1,60.7,73.7,66.3,77.1,63.7],
[69.4,61.2,76.6,64.2,72.2,59.2,67.6,74.9,62.9,70.7,65.1],[73.3,66.7,58.9,77.6,63.8,70.1,61.6,75.7,68.6,64.6,71.7],
[60.5,74.1,67.1,62.4,78.2,65.6,72.9,59.8,69.7,76.2,63.2],[77.4,64.3,70.9,61.1,73.6,66.2,58.6,75.2,68.3,62.1,71.3],
[65.4,79.1,60.2,72.6,67.9,76.9,63.3,69.2,74.6,58.1,70.6],[71.8,62.7,78.6,66.4,74.8,59.7,68.8,64.1,76.3,61.9,73.2],
[59.1,75.6,69.9,63.6,80.3,67.4,72.1,60.8,77.7,65.9,70.4],[74.3,61.3,68.2,79.4,64.8,71.1,58.4,76.1,66.8,72.7,62.8],
[67.7,81.1,59.9,73.9,69.3,63.9,77.3,60.4,71.6,65.2,75.4],[78.7,64.4,70.8,58.7,82.2,66.6,74.2,61.7,68.4,76.8,72.3],
[62.3,75.1,67.2,83.1,60.6,71.4,79.6,65.7,73.4,69.6,63.1],[70.2,59.3,77.9,64.9,74.7,61.4,84.2,68.7,72.8,66.1,80.4],
[76.4,62.6,69.1,82.1,65.3,73.1,60.9,78.9,67.3,71.9,85.1],[63.7,81.7,71.2,75.9,66.9,59.6,79.2,69.4,74.1,62.2,77.2],
[68.1,86.1,72.6,64.6,78.1,61.2,83.3,75.3,70.3,66.3,80.9],[73.7,65.1,81.2,69.8,60.1,76.7,84.7,71.8,63.4,78.4,67.8],
[79.7,70.9,62.1,86.7,74.4,67.1,82.7,76.1,65.9,72.4,69.1],[64.2,77.6,83.8,71.1,60.7,80.1,75.7,68.3,87.2,73.3,66.7],
[72.1,85.4,78.8,69.9,81.6,74.9,76.9,83.1,70.7,88.4],[80.7,73.6,87.9,75.1,84.4,71.3,78.2,69.2,77.3],
[82.6,70.1,74.2,86.2,79.3,72.9,88.4,76.2,81.1],[69.9,84.9,75.8,81.3,77.7,73.1,87.6,71.7,79.9,83.4],
[78.1,71.4,86.9,74.7,82.3,76.4,89.2,72.2,80.3],[75.3,83.7,70.6,78.6,88.1,73.9,81.9,85.7,76.8,72.8],
[81.4,72.3,89.6,77.2,74.1,84.1,70.4,79.1,86.4,75.6,82.8],[71.9,87.7,76.2,80.8,73.4,90.3,78.3,84.6,82.2,74.8],
[85.2,79.4,72.7,88.6,75.9,81.1,77.6,90.9,74.4,83.9,70.3],[76.7,70.8,84.3,78.9,86.8,73.2,81.7,89.9,75.2,82.4,79.8],
[83.3,74.6,88.8,71.2,80.2,85.8,77.1,72.6,82.1,87.1,78.4],[69.6,79.6,75.7,86.3,73.8,83.6,70.9,81.3,76.3,84.8,72.4],
[77.9,82.9,68.4,74.3,85.3,71.6,79.2,67.7,83.2,75.4,80.6],[72.2,86.1,76.6,69.4,81.8,74.9,78.2,84.1,70.2,67.1,79.3],
[66.8,80.9,73.7,83.9,71.1,76.1,68.9,78.8,82.3,74.2,69.8],
]

# dark patches in the fall and soft edges of the flat part
utc_fill = [0.6547,0.6569,0.6592,0.6613,0.6641,0.6668,0.6695,0.6716,0.6742,0.6771,0.6798,0.6826,0.6847,0.6874,0.6899,
    0.6921,0.6947,0.6973,0.6992,0.7009,0.7036,0.7063,0.7091,0.7118,0.7137,0.7164,0.7191,0.7209,0.7236,0.7262,0.7291,0.7318]
mag_fill = [[7.2,13.6,18.1,10.9],[9.4,15.7,21.3,12.2],[10.6,17.1,23.2,14.4],[12.8,19.3,6.9,15.9],[15.2,21.4,10.2,18.3],[18.1,23.7,13.6,26.9],
    [21.4,27.2,16.4,24.2],[23.6,29.7,18.9,26.1],[25.2,32.4,21.3,28.8],[28.9,34.6,24.7,31.3],[31.2,36.8,27.6,33.9],[34.3,39.2,30.7,42.1],
    [37.6,43.2,33.3,40.3],[42.1,47.9,38.7,45.2],[48.4,52.3,44.6,50.6],[52.1,56.9,49.2,54.3],[57.2,61.4,54.1,59.3],[61.2,66.3,58.2,63.7],
    [64.3,68.9,61.1,66.4],[63.6,70.2,60.4,67.8],[66.1,71.7,62.3,69.3],[65.4,69.8,62.9,72.2],[66.7,71.3,63.7,68.4],[64.8,70.6,61.9,73.8],
    [67.2,74.1,63.3,69.7],[68.3,75.6,65.2,71.6],[69.2,77.3,72.4,74.8],[71.7,78.9,74.2,81.3],[75.3,81.6,72.8,78.4],[76.8,83.4,73.6,79.9],[78.2,84.7,75.4,81.8],[77.4,83.6,74.3,80.2]]

utc_edge = [0.5122,0.5158,0.5204,0.5244,0.5287,0.5338,0.5374,0.5421,0.5467,0.5513,0.5558,0.5604,0.5647,0.5694,0.5737,0.5782,
    0.5126,0.5169,0.5217,0.5262,0.5309,0.5351,0.5393,0.5438,0.5484,0.5529,0.5571,0.5618,0.5663,0.5708,0.5752]
mag_edge = [-14.2,-11.7,-13.4,-12.6,-11.1,-12.9,-11.4,-10.7,-9.8,-11.6,-10.2,-9.1,-10.9,-8.7,-9.9,-8.4,
    16.8,15.9,17.4,16.3,18.2,17.1,18.9,17.7,19.6,18.4,19.1,20.3,18.7,19.8,18.2]

# stronger points away from the main band
utc_left = [0.5779,0.5730,0.5701,0.5692,0.5642,0.5583,0.5543,0.5399,0.5355,0.5298,0.5322,0.5149,0.5134,
    0.5101,0.5115,0.5066,0.5059,0.5068,0.5021,0.5101,0.6384,0.6508,0.6467,0.6432,0.6432,0.6318,0.6333,
    0.6337,0.6318,0.6254,0.6254,0.6200,0.6203,0.6183,0.6127,0.6112,0.6107,0.6059,0.6034,0.5974,0.5974,
    0.5936,0.5933,0.5941,0.5851,0.5851,0.5824,0.5824,0.5804]
mag_left = [-20.6,-18.2,-17.1,-15,-14.4,-14,-12.9,-11.5,-15.3,-15.3,-14,-17.4,-16.1,
    -23.8,-21,-23.1,-20.6,-15.8,-18.2,-16.9,-22.2,-7.4,-9.2,-13.2,-8,-18.8,-15.6,
    -11.7,-9,-22.7,-17.4,-22,-19.3,-15.8,-19.6,-17.2,-15.6,-18.2,-18.3,-14.6,-13.3,
    -15.6,-14,-10.7,-19.8,-12.8,-16.3,-14,-13.6]

utc_right = [0.5792,0.5792,0.5745,0.5738,0.5728,0.5651,0.5617,0.5586,0.5591,0.5481,0.5414,0.5404,0.5334,
    0.5273,0.5243,0.5239,0.5218,0.5180,0.5171,0.5039,0.5043,0.5074,0.5089,0.5118,0.5167,0.5248,0.5322,
    0.6483,0.6480,0.6455,0.6568,0.6568,0.6427,0.6378,0.6350,0.6350,0.6309,0.6291,0.6272,0.6239,0.6219,
    0.6216,0.6189,0.6172,0.6160,0.6111,0.6105,0.6129,0.6059,0.6049,0.5990,0.5999,0.6008,0.5926,0.5926,
    0.5928,0.5908,0.5906,0.5874,0.5831,0.5831,0.5819]
mag_right = [21.5,24.7,26.7,22.2,22.5,22.7,21.2,23.1,26.5,19.5,19.5,22.2,23.5,
    19.8,22,27.6,17.4,19.6,19.7,27.8,16.3,14.7,11,15,16.9,18.5,15.8,
    28.1,29.9,29,32.4,34.5,23.8,19.6,22,17.4,22,19.9,17.6,18.3,19.7,
    23.5,21,22.2,18.8,19.7,22.5,11.5,18.7,18.7,25.5,15.3,18,20.7,22.9,
    26.5,26.5,23.1,21.2,27.1,17.4,14.7]

utc_fall = [0.7400,0.7284,0.7051,0.7002,0.7002,0.6927,0.6955,0.6763,0.6821,0.6850,0.6846,0.6821,0.6767,
    0.6872,0.6893,0.6809,0.6784,0.6784,0.6688,0.6703,0.6688,0.6703,0.6688,0.6709,0.6741,0.6757,0.6722,
    0.6673,0.6673,0.6649,0.6651,0.6651,0.6639,0.6968,0.6952,0.6893,0.7371,0.7374,0.7107,0.7104,0.7083,
    0.7055,0.7024,0.7017,0.7346,0.7334,0.7349,0.7303,0.7222,0.7237,0.7222,0.7259,0.7228,0.7166,0.7113,
    0.7073,0.7063,0.7002,0.7303,0.7259,0.7259,0.7272,0.7352,0.7338,0.7318,0.7294,0.7268]
mag_fall = [0,57.5,47.2,80.7,83.1,38.1,47.4,55.5,56.8,63,60.5,52.2,49.4,
    31.4,38.1,21.2,18.2,21.2,4.7,8,8,11,12,13.9,17.4,20.1,43.1,
    41,37.8,38.6,5.1,8.8,34,76.7,78.9,64.7,33.2,34.6,49,50.3,54.4,
    51.8,50.3,51.9,88.5,88.5,92.6,92.1,96.7,94.3,93.3,91.4,89.2,87.3,82.8,
    86.5,83.9,84.4,62.4,66.2,64.1,68,58.6,60.2,63.3,62.1,65.4]

# the small knot of points at the very end of the run
utc_knot = [0.7396,0.7394,0.7391,0.7389,0.7387,0.7385,0.7383,0.7381,0.7379,0.7377,0.7375,0.7373,0.7371,0.7369,
    0.7367,0.7365,0.7363,0.7361,0.7359,0.7357,0.7396,0.7393,0.7390,0.7388,0.7386,0.7384,0.7382,0.7380,
    0.7378,0.7376,0.7374,0.7372,0.7370,0.7368,0.7366,0.7364,0.7362,0.7360,0.7395,0.7392,0.7389,0.7386,
    0.7383,0.7380,0.7377,0.7374,0.7371,0.7368,0.7365,0.7362,0.7394,0.7391,0.7388,0.7385,0.7382,0.7379,
    0.7376,0.7373,0.7370,0.7367,0.7364,0.7361,0.7358,0.7397,0.7390,0.7384,0.7378,0.7372,0.7366,0.7360,
    0.7353,0.7350,0.7348,0.7355,0.7352,0.7390,0.7386,0.7354,0.7351]
mag_knot = [37.4,40.2,42.6,44.8,38.9,41.3,43.7,46.2,39.6,42.1,44.4,47.3,40.8,43.2,
    45.6,41.9,44.1,46.7,43.3,45.2,44.7,47.9,36.3,41.1,45.9,48.6,42.7,38.2,
    46.4,49.7,40.4,42.9,46.8,44.3,47.4,42.4,45.8,43.6,51.2,35.4,49.3,43.9,
    51.7,47.1,43.1,52.6,45.3,48.2,44.9,41.6,54.1,46.1,39.3,50.6,44.6,52.3,
    41.7,48.9,43.8,46.9,50.2,47.7,46.3,48.3,53.2,37.8,50.8,44.2,49.1,45.4,
    42.2,47.6,51.4,38.4,35.2,31.8,33.4,53.8,44.6]

x = []
y = []
for us, rows in [(utc_rows, mag_rows), (utc_low, mag_low), (utc_high, mag_high), (utc_fill, mag_fill)]:
    for u, row in zip(us, rows):
        for m in row:
            x.append(m)
            y.append(u)
x = np.array(x + mag_edge + mag_left + mag_right + mag_fall + mag_knot) / 1000
y = np.array(y + utc_edge + utc_left + utc_right + utc_fall + utc_knot)

fig = plt.figure(figsize=(5.62, 7.56), dpi=100)
plt.rcParams['font.family'] = ['Liberation Sans', 'DejaVu Sans']
ax = fig.add_axes([56.7/562, (756-699.7)/756, (505-56.7)/562, (699.7-55.7)/756])
ax.plot(x, y, 'x', color='k', ms=3.8, mew=0.55)
ax.set_xlim(-0.0356, 0.1085)
ax.set_ylim(0.5, 0.74)

ax.set_xticks([0, 0.05, 0.1])
ax.set_xticklabels(['0', '0.05', '0.1'], rotation=180)
ax.set_xticks(np.arange(-0.03, 0.105, 0.01), minor=True)
ax.set_yticks([0.55, 0.6, 0.65, 0.7])
ax.set_yticklabels(['0.55', '0.6', '0.65', '0.7'], rotation=90, va='center')
ax.set_yticks(np.arange(0.51, 0.74, 0.01), minor=True)
ax.tick_params(which='major', direction='in', length=4.6, width=0.7, top=True, right=True,
               labelleft=False, labelright=True, labelsize=10, pad=8, labelcolor='#222222')
ax.tick_params(which='minor', direction='in', length=2.2, width=0.7, top=True, right=True)
for s in ax.spines.values():
    s.set_linewidth(0.8)
    s.set_color('#222222')

fig.text(548/562, 1-378/756, 'UTC (hours)', rotation=90, ha='center', va='center', fontsize=10, color='#222222')
fig.text(275/562, 1-733/756, 'Magnitudes', rotation=180, ha='center', va='center', fontsize=10, color='#222222')
fig.text(24/562, 1-540/756, 'J4  OCC  J2', rotation=90, ha='center', va='center', fontsize=10, color='#222222')
fig.text(24/562, 1-423/756, '17  JAN  2003', rotation=90, ha='center', va='center', fontsize=10, color='#222222')
fig.text(24/562, 1-302/756, '(OHP–T120)', rotation=90, ha='center', va='center', fontsize=10, color='#222222')
fig.text(24/562, 1-190/756, '6632  PTS', rotation=90, ha='center', va='center', fontsize=10, color='#222222')

fig.savefig('out.png', dpi=100)
